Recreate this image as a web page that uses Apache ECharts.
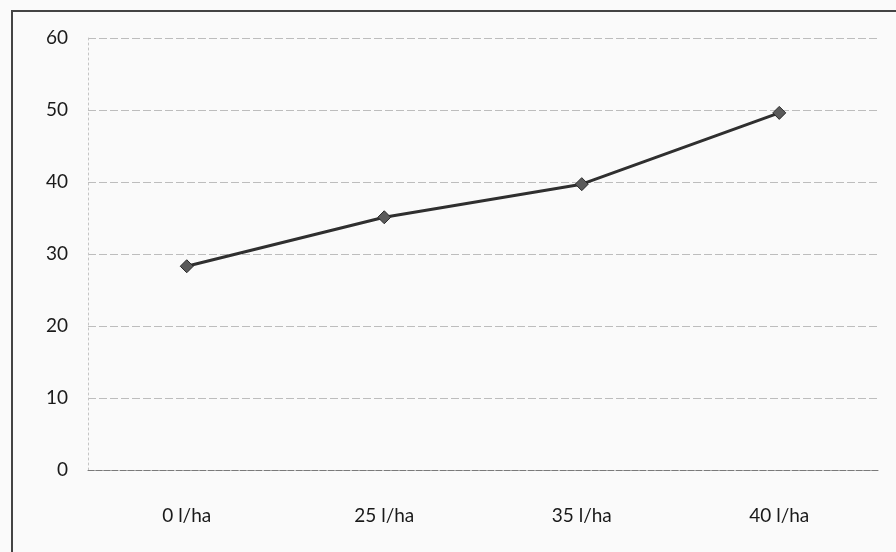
<!DOCTYPE html>
<html>
<head>
<meta charset="utf-8">
<script src="https://cdn.jsdelivr.net/npm/echarts@6/dist/echarts.min.js"></script>
<style>
  html, body { margin: 0; padding: 0; background: #fafafa; }
  #chart { width: 896px; height: 552px; }
</style>
</head>
<body>
<div id="chart"></div>
<script>
// Application rate categories and measured values
const categories = ['0 l/ha', '25 l/ha', '35 l/ha', '40 l/ha'];
const values = [28.3, 35.1, 39.7, 49.6];
const yMin = 0;
const yMax = 60;
const yStep = 10;

const labelFont = 'Lato, Open Sans, Noto Sans, sans-serif';

const chart = echarts.init(document.getElementById('chart'));
chart.setOption({
  backgroundColor: '#fafafa',
  animation: false,
  graphic: [{
    type: 'rect',
    shape: { x: 12, y: 11, width: 900, height: 560 },
    style: { fill: 'none', stroke: '#444', lineWidth: 2 },
    silent: true
  }],
  grid: { left: 88, right: 18, top: 38, bottom: 82 },
  xAxis: {
    type: 'category',
    data: categories,
    boundaryGap: true,
    axisLine: { show: true, lineStyle: { color: '#7a7a7a', width: 1, type: [6, 2] } },
    axisTick: { show: false },
    axisLabel: { color: '#1a1a1a', fontSize: 19, fontFamily: labelFont, margin: 36 }
  },
  yAxis: {
    type: 'value',
    min: yMin,
    max: yMax,
    interval: yStep,
    axisLine: { show: true, lineStyle: { color: '#c4c4c4', width: 1, type: [2, 3] } },
    axisTick: { show: false },
    axisLabel: { color: '#1a1a1a', fontSize: 19, fontFamily: labelFont, margin: 20 },
    splitLine: { show: true, lineStyle: { color: '#bdbdbd', width: 1, type: [8, 3] } }
  },
  series: [{
    type: 'line',
    data: values,
    symbol: 'diamond',
    symbolSize: 13,
    lineStyle: { color: '#2f2f2f', width: 3 },
    itemStyle: { color: '#5a5a5a', borderColor: '#2a2a2a', borderWidth: 1 }
  }]
});
</script>
</body>
</html>
